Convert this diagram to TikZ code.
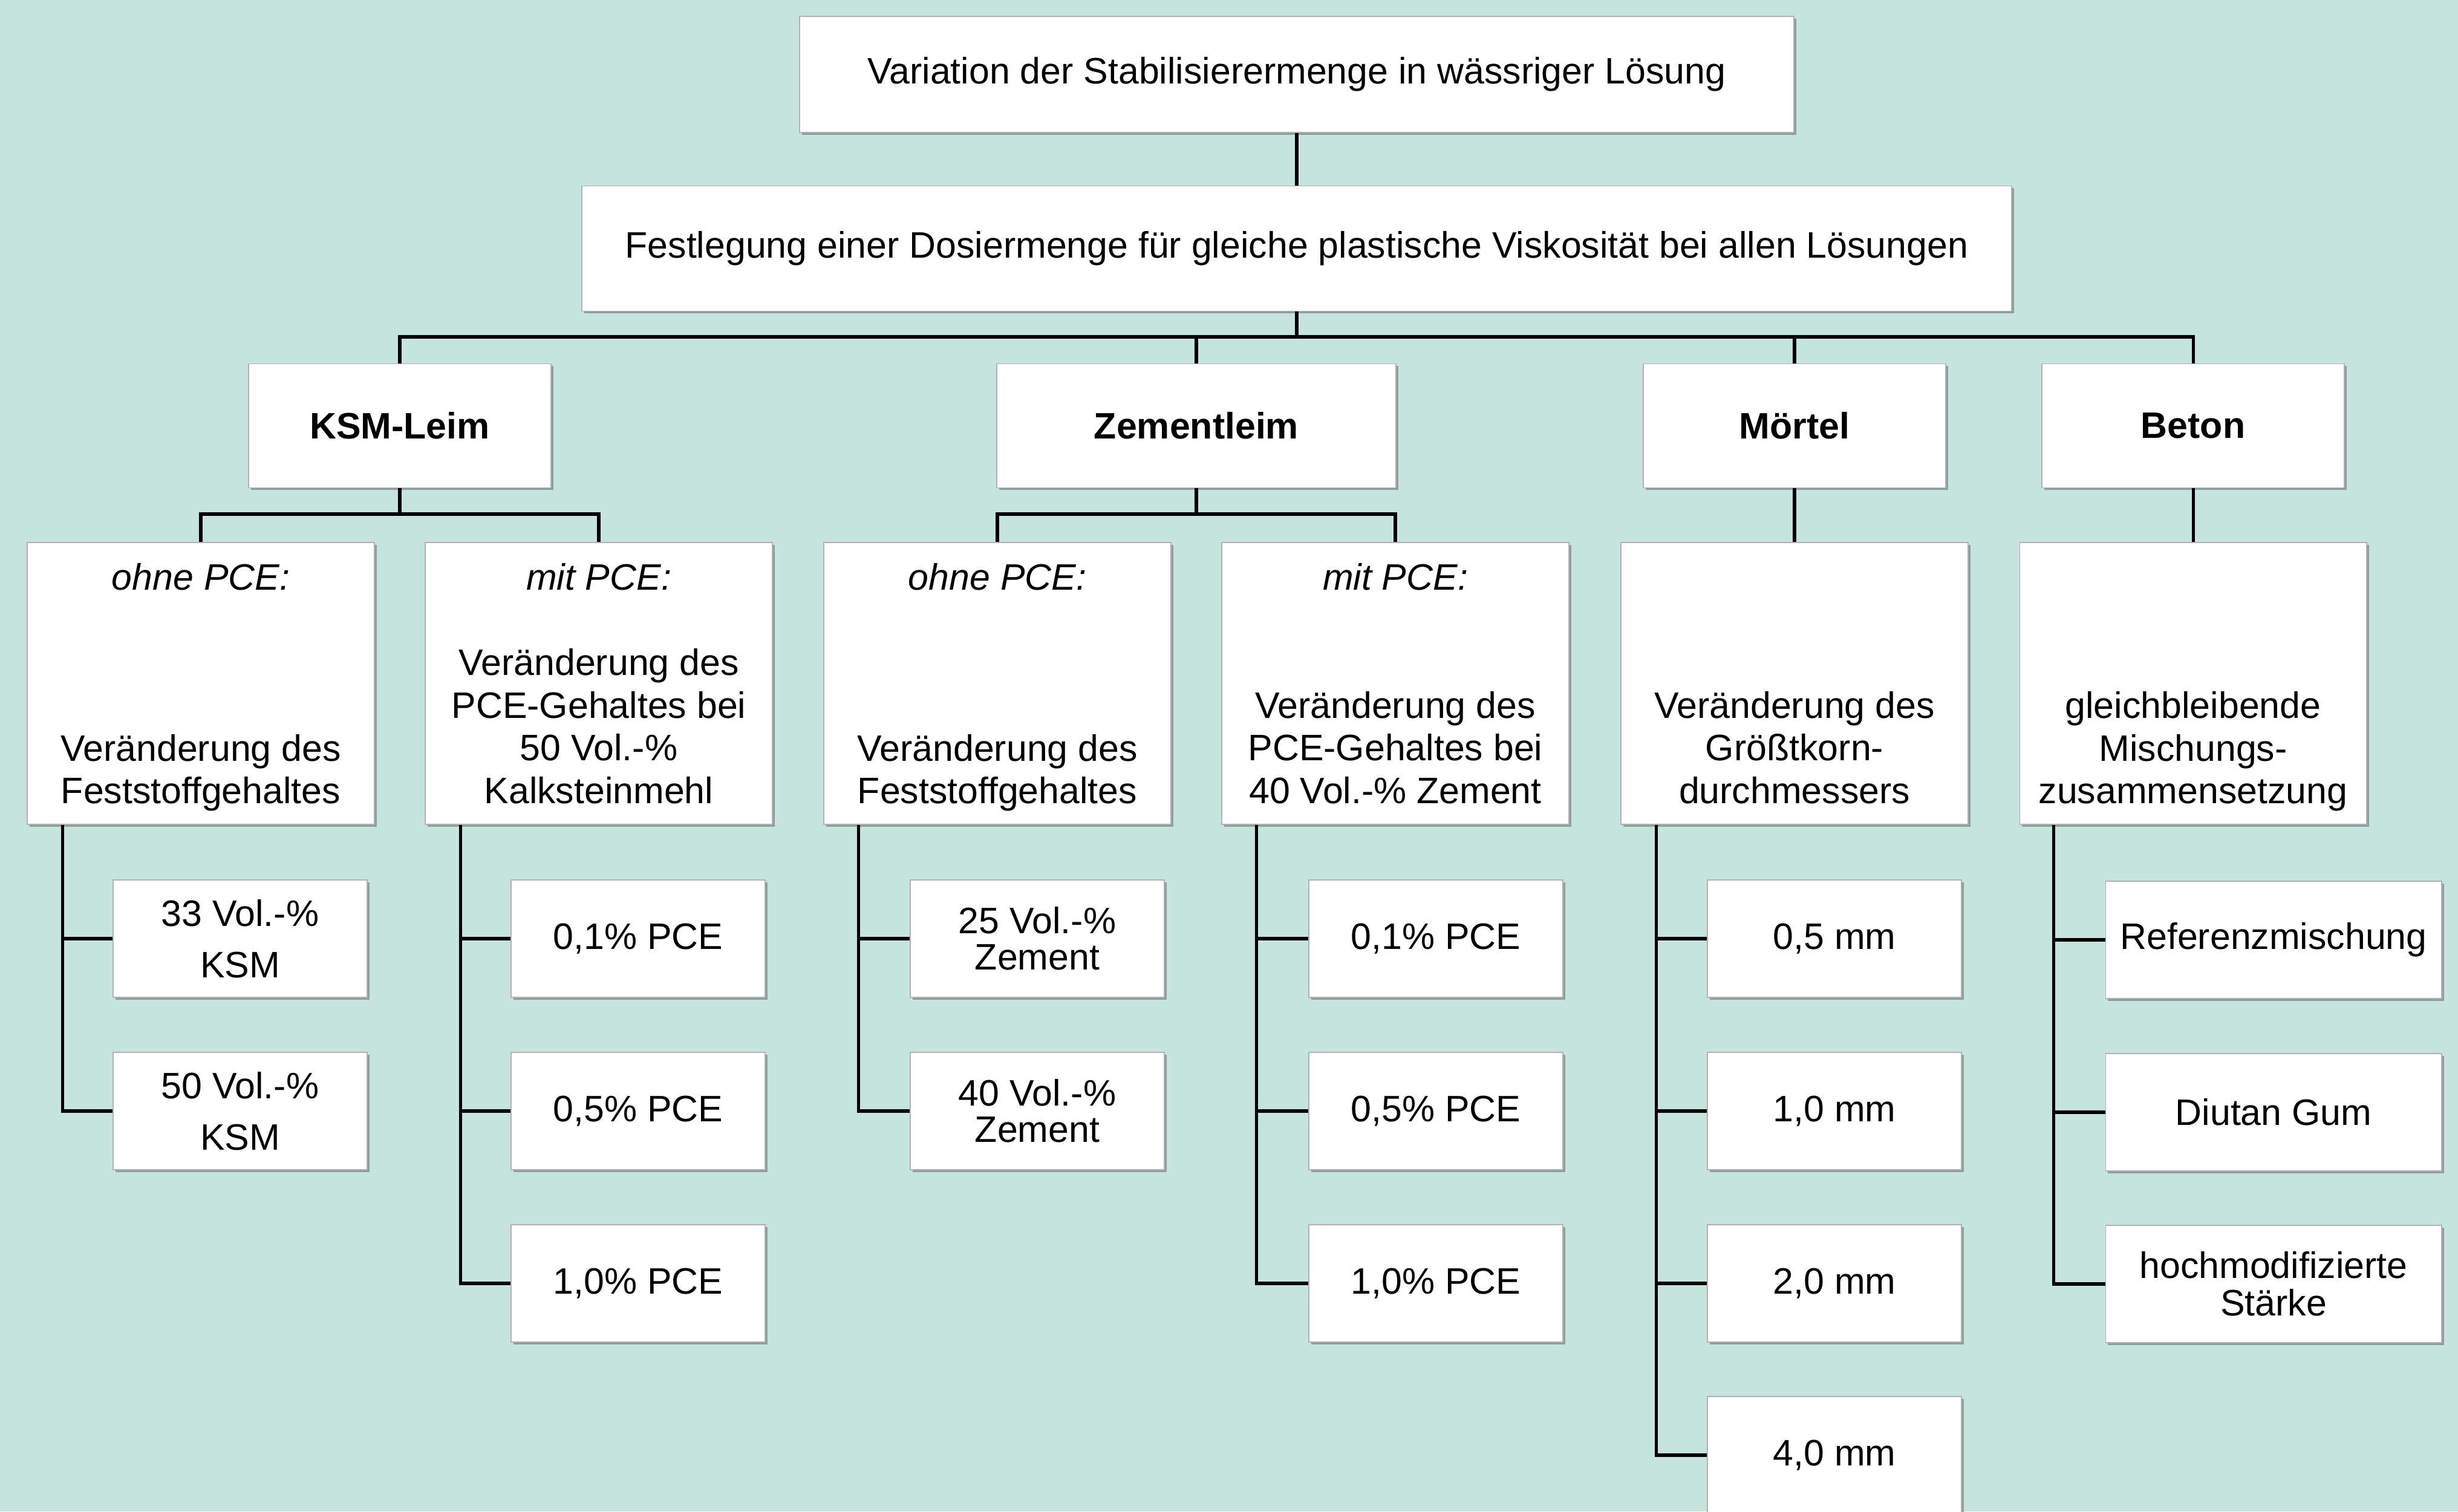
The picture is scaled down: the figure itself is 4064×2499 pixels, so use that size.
\documentclass[tikz,border=0pt]{standalone}
\usepackage{fontspec}
\setmainfont{Liberation Sans}
\usetikzlibrary{shadows}
\definecolor{bgc}{HTML}{C6E3DD}
\begin{document}
\begin{tikzpicture}[x=0.01cm,y=-0.01cm,
  box/.style={draw=gray!60, line width=0.5pt, fill=white, inner sep=0pt, align=center,
    font=\fontsize{17.3}{20.1}\selectfont,
    drop shadow={shadow xshift=1.1pt, shadow yshift=-1.1pt, opacity=0.45, fill=black!70}},
  lvtwo/.style={box, minimum width=5cm, minimum height=2.05cm, font=\fontsize{17.3}{20.1}\selectfont\bfseries},
  lvthree/.style={box, minimum width=5.73cm, minimum height=4.66cm},
  leaf/.style={box, minimum width=4.2cm, minimum height=1.94cm},
  wleaf/.style={box, minimum width=5.55cm, minimum height=1.94cm},
  conn/.style={line width=1.45pt, black}]
\fill[bgc] (0,0) rectangle (4064,2499);
\useasboundingbox (0,0) rectangle (4064,2499);
\clip (0,0) rectangle (4064,2499);

% top levels
\node[box, minimum width=16.43cm, minimum height=1.92cm] (top) at (2144,123) {Variation der Stabilisierermenge in wässriger Lösung};
\node[box, minimum width=23.63cm, minimum height=2.07cm] (fest) at (2144,411) {Festlegung einer Dosiermenge für gleiche plastische Viskosität bei allen Lösungen};

\node[lvtwo] (ksm) at (661,704) {KSM-Leim};
\node[lvtwo, minimum width=6.59cm] (zem) at (1978,704) {Zementleim};
\node[lvtwo] (mor) at (2967,704) {Mörtel};
\node[lvtwo] (bet) at (3626,704) {Beton};

\node[lvthree] (kO) at (332,1130) {\textit{ohne PCE:}\\\mbox{}\\\mbox{}\\\mbox{}\\Veränderung des\\\smash{Feststoffgehaltes}};
\node[lvthree] (kM) at (990,1130) {\textit{mit PCE:}\\\mbox{}\\Veränderung des\\PCE-Gehaltes bei\\50 Vol.-\%\\Kalksteinmehl};
\node[lvthree] (zO) at (1649,1130) {\textit{ohne PCE:}\\\mbox{}\\\mbox{}\\\mbox{}\\Veränderung des\\\smash{Feststoffgehaltes}};
\node[lvthree] (zM) at (2307,1130) {\textit{mit PCE:}\\\mbox{}\\\mbox{}\\Veränderung des\\PCE-Gehaltes bei\\40 Vol.-\% Zement};
\node[lvthree] (mC) at (2967,1130) {\mbox{\vphantom{h}}\\\mbox{}\\\mbox{}\\Veränderung des\\Größtkorn-\\durchmessers};
\node[lvthree] (bC) at (3626,1130) {\mbox{\vphantom{h}}\\\mbox{}\\\mbox{}\\gleichbleibende\\Mischungs-\\\smash{zusammensetzung}};

% leaves
\node[leaf] (kO1) at (397,1552) {33 Vol.-\%\\[4pt]KSM};
\node[leaf] (kO2) at (397,1837) {50 Vol.-\%\\[4pt]KSM};
\node[leaf] (kM1) at (1055,1552) {0,1\% PCE};
\node[leaf] (kM2) at (1055,1837) {0,5\% PCE};
\node[leaf] (kM3) at (1055,2122) {1,0\% PCE};
\node[leaf] (zO1) at (1715,1552) {25 Vol.-\%\\[-3pt]Zement};
\node[leaf] (zO2) at (1715,1837) {40 Vol.-\%\\[-3pt]Zement};
\node[leaf] (zM1) at (2374,1552) {0,1\% PCE};
\node[leaf] (zM2) at (2374,1837) {0,5\% PCE};
\node[leaf] (zM3) at (2374,2122) {1,0\% PCE};
\node[leaf] (mC1) at (3033,1552) {0,5 mm};
\node[leaf] (mC2) at (3033,1837) {1,0 mm};
\node[leaf] (mC3) at (3033,2122) {2,0 mm};
\node[leaf] (mC4) at (3033,2406) {4,0 mm};
\node[wleaf] (bC1) at (3759,1554) {Referenzmischung};
\node[wleaf] (bC2) at (3759,1839) {Diutan Gum};
\node[wleaf] (bC3) at (3759,2123) {hochmodifizierte\\[-2.5pt]Stärke};

% connectors upper levels
\coordinate (b1) at (2144,557);
\coordinate (b2) at (0,850);
\draw[conn] (top.south) -- (fest.north);
\draw[conn] (fest.south) -- (b1);
\draw[conn] (ksm.north) |- (bet.north |- b1) -- (bet.north);
\draw[conn] (zem.north) -- (zem.north |- b1);
\draw[conn] (mor.north) -- (mor.north |- b1);

\draw[conn] (ksm.south) -- (ksm.south |- b2);
\draw[conn] (kO.north) |- (kM.north |- b2) -- (kM.north);
\draw[conn] (zem.south) -- (zem.south |- b2);
\draw[conn] (zO.north) |- (zM.north |- b2) -- (zM.north);
\draw[conn] (mor.south) -- (mC.north);
\draw[conn] (bet.south) -- (bC.north);

% trunks
\coordinate (tkO) at ([xshift=0.59cm]kO.south west);
\coordinate (tkM) at ([xshift=0.59cm]kM.south west);
\coordinate (tzO) at ([xshift=0.58cm]zO.south west);
\coordinate (tzM) at ([xshift=0.58cm]zM.south west);
\coordinate (tmC) at ([xshift=0.59cm]mC.south west);
\coordinate (tbC) at ([xshift=0.57cm]bC.south west);
\foreach \l in {kO1,kO2} \draw[conn] (tkO) |- (\l.west);
\foreach \l in {kM1,kM2,kM3} \draw[conn] (tkM) |- (\l.west);
\foreach \l in {zO1,zO2} \draw[conn] (tzO) |- (\l.west);
\foreach \l in {zM1,zM2,zM3} \draw[conn] (tzM) |- (\l.west);
\foreach \l in {mC1,mC2,mC3,mC4} \draw[conn] (tmC) |- (\l.west);
\foreach \l in {bC1,bC2,bC3} \draw[conn] (tbC) |- (\l.west);
\end{tikzpicture}
\end{document}
